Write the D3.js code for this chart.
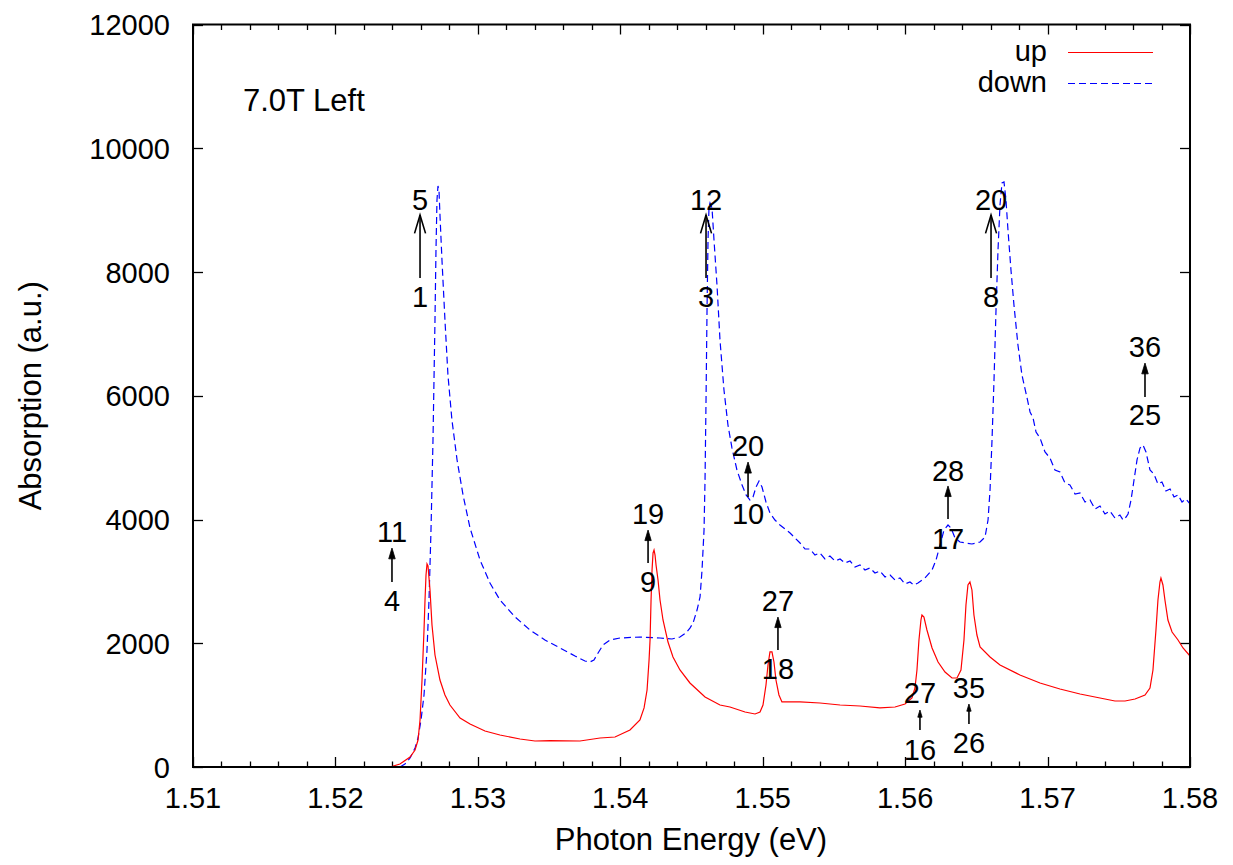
<!DOCTYPE html>
<html>
<head>
<meta charset="utf-8">
<script src="https://cdn.jsdelivr.net/npm/d3@7"></script>
<style>
  html, body { margin: 0; padding: 0; background: #fff; }
  svg { display: block; }
  text { font-family: "Liberation Sans", Arial, Helvetica, sans-serif; fill: #000; }
</style>
</head>
<body>
<svg id="chart" width="1233" height="865"></svg>
<script>
// ---------------- DATA ----------------
const xTicks = [1.51, 1.52, 1.53, 1.54, 1.55, 1.56, 1.57, 1.58];
const xTickLabels = ["1.51", "1.52", "1.53", "1.54", "1.55", "1.56", "1.57", "1.58"];
const yTicks = [0, 2000, 4000, 6000, 8000, 10000, 12000];
const yTickLabels = ["0", "2000", "4000", "6000", "8000", "10000", "12000"];

const xLabel = "Photon Energy (eV)";
const yLabel = "Absorption (a.u.)";
const plotTitle = "7.0T Left";
const seriesNames = ["up", "down"];

// "up" series: [photon energy (eV), absorption]
const upData = [
  [1.52383,0],[1.52453,48],[1.52524,162],[1.52559,275],[1.52580,436],[1.52594,760],[1.52608,1406],
  [1.52622,2214],[1.52629,2699],[1.52636,3103],[1.52643,3281],[1.52650,3249],[1.52664,2861],[1.52678,2295],
  [1.52699,1810],[1.52734,1406],[1.52769,1164],[1.52804,1002],[1.52875,792],[1.52945,695],[1.53050,582],
  [1.53155,517],[1.53296,453],[1.53401,420],[1.53507,425],[1.53717,420],[1.53858,469],[1.53963,485],
  [1.54068,598],[1.54138,760],[1.54167,954],[1.54188,1244],[1.54202,1729],[1.54209,2053],[1.54216,2699],
  [1.54223,3184],[1.54230,3459],[1.54237,3507],[1.54244,3426],[1.54251,3265],[1.54265,3022],[1.54279,2699],
  [1.54300,2376],[1.54335,2020],[1.54370,1778],[1.54419,1568],[1.54489,1358],[1.54595,1131],[1.54700,1002],
  [1.54770,970],[1.54876,889],[1.54946,857],[1.54981,889],[1.55002,1002],[1.55023,1325],[1.55037,1649],
  [1.55051,1859],[1.55065,1859],[1.55079,1697],[1.55093,1406],[1.55114,1164],[1.55135,1051],[1.55170,1051],
  [1.55262,1051],[1.55402,1034],[1.55543,1002],[1.55683,986],[1.55823,954],[1.55929,970],[1.55999,1018],
  [1.56048,1115],[1.56069,1277],[1.56083,1568],[1.56097,2053],[1.56111,2376],[1.56118,2457],[1.56132,2424],
  [1.56153,2214],[1.56189,1923],[1.56231,1697],[1.56280,1535],[1.56329,1438],[1.56364,1438],[1.56392,1568],
  [1.56413,2053],[1.56427,2618],[1.56441,2942],[1.56455,2990],[1.56469,2861],[1.56483,2457],[1.56504,2133],
  [1.56526,1939],[1.56596,1778],[1.56666,1649],[1.56806,1487],[1.56947,1358],[1.57087,1261],[1.57228,1180],
  [1.57368,1115],[1.57473,1067],[1.57544,1067],[1.57614,1099],[1.57684,1164],[1.57719,1277],[1.57740,1568],
  [1.57761,2214],[1.57775,2699],[1.57789,2990],[1.57796,3055],[1.57810,2942],[1.57824,2699],[1.57845,2376],
  [1.57874,2182],[1.57916,2053],[1.57951,1923],[1.58000,1794]
];

// "down" series: [photon energy (eV), absorption]
const downData = [
  [1.52453,0],[1.52488,48],[1.52524,145],[1.52559,307],[1.52580,469],[1.52601,760],[1.52622,1164],
  [1.52643,1891],[1.52657,2699],[1.52671,3830],[1.52685,5285],[1.52699,7224],[1.52706,8356],[1.52713,9164],
  [1.52720,9390],[1.52727,9326],[1.52734,8921],[1.52748,8194],[1.52769,7224],[1.52790,6336],[1.52818,5608],
  [1.52854,4962],[1.52896,4396],[1.52945,3863],[1.53015,3346],[1.53085,2974],[1.53155,2699],[1.53261,2424],
  [1.53366,2214],[1.53471,2053],[1.53577,1923],[1.53682,1794],[1.53752,1713],[1.53787,1697],[1.53815,1729],
  [1.53844,1842],[1.53879,1972],[1.53928,2053],[1.53998,2085],[1.54138,2101],[1.54279,2085],[1.54363,2069],
  [1.54419,2101],[1.54461,2166],[1.54489,2246],[1.54511,2327],[1.54539,2537],[1.54560,2748],[1.54574,3184],
  [1.54588,3830],[1.54595,4638],[1.54602,5931],[1.54609,7386],[1.54616,8517],[1.54623,9051],[1.54630,9115],
  [1.54644,9035],[1.54658,8517],[1.54679,7790],[1.54700,6901],[1.54728,6093],[1.54756,5527],[1.54784,5156],
  [1.54819,4800],[1.54855,4558],[1.54883,4396],[1.54911,4315],[1.54932,4364],[1.54953,4525],[1.54974,4622],
  [1.54995,4525],[1.55023,4283],[1.55051,4105],[1.55086,3992],[1.55121,3911],[1.55192,3782],[1.55262,3620],
  [1.55297,3523],[1.55332,3523],[1.55367,3426],[1.55402,3459],[1.55437,3362],[1.55472,3410],[1.55508,3329],
  [1.55543,3362],[1.55578,3297],[1.55613,3329],[1.55648,3232],[1.55683,3265],[1.55718,3184],[1.55753,3216],
  [1.55788,3135],[1.55823,3168],[1.55859,3071],[1.55894,3103],[1.55929,3022],[1.55964,3055],[1.55999,2958],
  [1.56034,2990],[1.56062,2941],[1.56090,2974],[1.56139,3055],[1.56189,3184],[1.56217,3346],[1.56245,3588],
  [1.56273,3830],[1.56301,3911],[1.56322,3863],[1.56350,3701],[1.56385,3636],[1.56427,3620],[1.56469,3604],
  [1.56526,3636],[1.56561,3717],[1.56582,3992],[1.56596,4477],[1.56610,5285],[1.56624,6255],[1.56638,7386],
  [1.56652,8356],[1.56666,9083],[1.56680,9439],[1.56694,9455],[1.56708,9164],[1.56722,8679],[1.56743,8033],
  [1.56764,7467],[1.56792,6820],[1.56820,6336],[1.56856,5964],[1.56877,5738],[1.56898,5641],[1.56919,5414],
  [1.56947,5317],[1.56982,5091],[1.57017,4994],[1.57052,4800],[1.57087,4768],[1.57122,4590],[1.57157,4558],
  [1.57193,4412],[1.57228,4428],[1.57263,4283],[1.57298,4315],[1.57333,4170],[1.57368,4218],[1.57403,4089],
  [1.57438,4137],[1.57473,4024],[1.57508,4073],[1.57530,3992],[1.57551,4040],[1.57565,4089],[1.57586,4315],
  [1.57607,4638],[1.57628,4962],[1.57649,5156],[1.57670,5204],[1.57691,5091],[1.57719,4800],[1.57747,4735],
  [1.57775,4574],[1.57803,4606],[1.57831,4461],[1.57860,4493],[1.57888,4364],[1.57916,4396],[1.57944,4283],
  [1.57972,4331],[1.58000,4251]
];

// transition annotations: x position (eV), upper label, lower label,
// upper label centre, arrow tip, arrow tail, lower label centre (absorption units)
const annX      = [1.52397, 1.52594, 1.54195, 1.54602, 1.54897, 1.55107, 1.56104, 1.56301, 1.56448, 1.56603, 1.57684];
const annTop    = ["11", "5", "19", "12", "20", "27", "27", "28", "35", "20", "36"];
const annBottom = ["4", "1", "9", "3", "10", "18", "16", "17", "26", "8", "25"];
const annTopY   = [3798, 9164, 4089, 9164, 5204, 2683, 1196, 4800, 1277, 9164, 6788];
const annTipY   = [3539, 8921, 3830, 8921, 4929, 2424, 921, 4542, 1018, 8921, 6529];
const annTailY  = [2990, 7903, 3297, 7903, 4364, 1891, 598, 4008, 695, 7903, 5980];
const annBotY   = [2683, 7596, 2990, 7596, 4105, 1584, 275, 3701, 388, 7596, 5705];

// ---------------- DRAW ----------------
const svg = d3.select("#chart");
const W = 1233, H = 865;
const L = 193, R = 1190, T = 24.5, B = 767;
const FS = 29;   // numbers
const FT = 31;   // words
const FL = 29;   // legend

const x = d3.scaleLinear().domain([1.51, 1.58]).range([L, R]);
const y = d3.scaleLinear().domain([0, 12000]).range([B, T]);

svg.append("rect").attr("width", W).attr("height", H).attr("fill", "#fff");

// ticks
const minorX = d3.range(0, 36).map(i => 1.51 + i * 0.002).filter(v => v <= 1.5801);
const gt = svg.append("g").attr("stroke", "#000").attr("stroke-width", 1.3);
minorX.forEach(v => {
  const isMajor = Math.abs(Math.round(v * 100) - v * 100) < 1e-6;
  const len = isMajor ? 10 : 5.5;
  const px = Math.round(x(v)) + 0.5;
  gt.append("line").attr("x1", px).attr("x2", px).attr("y1", B).attr("y2", B - len);
  gt.append("line").attr("x1", px).attr("x2", px).attr("y1", T).attr("y2", T + len);
});
yTicks.forEach(v => {
  const py = Math.round(y(v)) + 0.5;
  gt.append("line").attr("x1", L).attr("x2", L + 10).attr("y1", py).attr("y2", py);
  gt.append("line").attr("x1", R).attr("x2", R - 10).attr("y1", py).attr("y2", py);
});

// tick labels
const gl = svg.append("g").style("font-size", FS + "px");
xTicks.forEach((v, i) => {
  gl.append("text").attr("x", x(v)).attr("y", 808).attr("text-anchor", "middle").text(xTickLabels[i]);
});
yTicks.forEach((v, i) => {
  gl.append("text").attr("x", 170).attr("y", y(v) + 10.5).attr("text-anchor", "end").text(yTickLabels[i]);
});

// axis titles
const gw = svg.append("g").style("font-size", FT + "px");
gw.append("text").attr("x", 691).attr("y", 850).attr("text-anchor", "middle").text(xLabel);
gw.append("text").attr("transform", `translate(41,${(T + B) / 2}) rotate(-90)`)
  .attr("text-anchor", "middle").text(yLabel);
gw.append("text").attr("x", 243).attr("y", 111).text(plotTitle);

// curves
const clip = svg.append("clipPath").attr("id", "clip");
clip.append("rect").attr("x", L).attr("y", T).attr("width", R - L).attr("height", B - T);
const line = d3.line().x(d => x(d[0])).y(d => y(d[1]));
const gc = svg.append("g").attr("clip-path", "url(#clip)");
gc.append("path").datum(downData).attr("d", line).attr("fill", "none")
  .attr("stroke", "#0000ff").attr("stroke-width", 1.2).attr("stroke-dasharray", "7,4");
gc.append("path").datum(upData).attr("d", line).attr("fill", "none")
  .attr("stroke", "#ff0000").attr("stroke-width", 1.2);

// annotations
const ga = svg.append("g").style("font-size", FS + "px");
annX.forEach((ax, i) => {
  const px = x(ax);
  const yTip = y(annTipY[i]), yTail = y(annTailY[i]);
  const len = yTail - yTip;
  const hl = 0.26 * len + 2, hw = hl * 0.3;
  ga.append("line").attr("x1", px).attr("x2", px).attr("y1", yTail).attr("y2", yTip + (len > 50 ? 0 : hl * 0.6))
    .attr("stroke", "#000").attr("stroke-width", 1.6);
  if (len > 50) {
    ga.append("path").attr("d", `M${px - hw},${yTip + hl} L${px},${yTip} L${px + hw},${yTip + hl}`)
      .attr("fill", "none").attr("stroke", "#000").attr("stroke-width", 1.6);
  } else {
    ga.append("path").attr("d", `M${px - hw},${yTip + hl} L${px},${yTip} L${px + hw},${yTip + hl} Z`)
      .attr("fill", "#000").attr("stroke", "#000").attr("stroke-width", 0.8);
  }
  ga.append("text").attr("x", px).attr("y", y(annTopY[i]) + 10.5).attr("text-anchor", "middle").text(annTop[i]);
  ga.append("text").attr("x", px).attr("y", y(annBotY[i]) + 10.5).attr("text-anchor", "middle").text(annBottom[i]);
});

// legend
const legColors = ["#ff0000", "#0000ff"];
const legDash = [null, "7,4"];
const legY = [52, 83];
const gleg = svg.append("g").style("font-size", FL + "px");
seriesNames.forEach((n, i) => {
  gleg.append("text").attr("x", 1047).attr("y", legY[i] + 9).attr("text-anchor", "end").text(n);
  svg.append("line").attr("x1", 1068).attr("x2", 1153).attr("y1", legY[i] + 0.5).attr("y2", legY[i] + 0.5)
    .attr("stroke", legColors[i]).attr("stroke-width", 1.2).attr("stroke-dasharray", legDash[i]);
});

// border
svg.append("rect").attr("x", L).attr("y", T).attr("width", R - L).attr("height", B - T)
  .attr("fill", "none").attr("stroke", "#000").attr("stroke-width", 2);
</script>
</body>
</html>
